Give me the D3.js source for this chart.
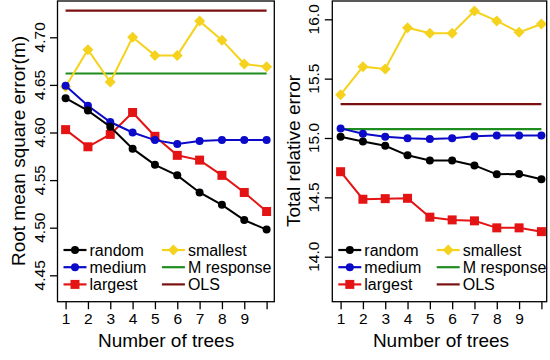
<!DOCTYPE html>
<html>
<head>
<meta charset="utf-8">
<script src="https://cdn.jsdelivr.net/npm/d3@7"></script>
<style>
  body { margin: 0; background: #fff; }
  svg { font-family: "Liberation Sans", Arial, sans-serif; }
</style>
</head>
<body>
<svg width="550" height="360"></svg>
<script>

// number of trees on the x axis
var trees = [1, 2, 3, 4, 5, 6, 7, 8, 9, 10];
var xTickLabels = ["1", "2", "3", "4", "5", "6", "7", "8", "9"];

// left panel: root mean square error (m)
var rmseRandom   = [4.636, 4.623, 4.606, 4.583, 4.566, 4.555, 4.537, 4.524, 4.508, 4.498];
var rmseMedium   = [4.649, 4.628, 4.611, 4.600, 4.592, 4.588, 4.591, 4.592, 4.592, 4.592];
var rmseLargest  = [4.603, 4.585, 4.598, 4.621, 4.596, 4.576, 4.571, 4.555, 4.537, 4.517];
var rmseSmallest = [4.648, 4.687, 4.653, 4.700, 4.681, 4.681, 4.717, 4.697, 4.672, 4.669];
var rmseMResponse = 4.662;
var rmseOLS = 4.728;
var rmseTicks = [4.45, 4.50, 4.55, 4.60, 4.65, 4.70];

// right panel: total relative error
var treRandom   = [15.01, 14.97, 14.935, 14.854, 14.811, 14.811, 14.769, 14.694, 14.697, 14.652];
var treMedium   = [15.081, 15.036, 15.011, 14.997, 14.991, 14.997, 15.014, 15.022, 15.022, 15.022];
var treLargest  = [14.716, 14.484, 14.489, 14.492, 14.333, 14.31, 14.302, 14.243, 14.243, 14.211];
var treSmallest = [15.365, 15.601, 15.581, 15.929, 15.882, 15.882, 16.07, 15.986, 15.89, 15.96];
var treMResponse = 15.075;
var treOLS = 15.286;
var treTicks = [14.0, 14.5, 15.0, 15.5, 16.0];
var treTickLabels = ["14.0", "14.5", "15.0", "15.5", "16.0"];

var colors = { random: "#000000", medium: "#0a0ac8", largest: "#e41414", smallest: "#f5d21e", mresp: "#1e8c1e", ols: "#7a1010" };

var svg = d3.select("svg");

function panel(opt) {
  var g = svg.append("g");
  var x = d3.scaleLinear().domain([1, 10]).range(opt.xr);
  var y = d3.scaleLinear().domain(opt.yd).range(opt.yr);
  var top = 1, bottom = 301.7;

  var line = d3.line().x(function(d, i) { return x(trees[i]); }).y(function(d) { return y(d); });

  // flat reference lines
  [[opt.ols, colors.ols], [opt.mresp, colors.mresp]].forEach(function(r) {
    g.append("line")
      .attr("x1", x(1)).attr("x2", x(10))
      .attr("y1", y(r[0])).attr("y2", y(r[0]))
      .attr("stroke", r[1]).attr("stroke-width", 2.2);
  });

  var series = [
    { v: opt.smallest, c: colors.smallest, shape: "diamond" },
    { v: opt.largest, c: colors.largest, shape: "square" },
    { v: opt.medium, c: colors.medium, shape: "circle" },
    { v: opt.random, c: colors.random, shape: "circle" }
  ];
  if (opt.order) series = opt.order.map(function(i) { return series[i]; });

  series.forEach(function(s) {
    g.append("path").attr("d", line(s.v)).attr("fill", "none")
      .attr("stroke", s.c).attr("stroke-width", 2);
    s.v.forEach(function(d, i) { marker(g, s.shape, x(trees[i]), y(d), s.c); });
  });

  // box
  g.append("rect").attr("x", opt.box[0]).attr("y", top)
    .attr("width", opt.box[1] - opt.box[0]).attr("height", bottom - top)
    .attr("fill", "none").attr("stroke", "#000").attr("stroke-width", 1.3);

  // x axis
  var xa = g.append("g").attr("transform", "translate(0," + bottom + ")")
    .call(d3.axisBottom(x).tickValues(trees).tickSize(7.5).tickPadding(4)
      .tickFormat(function(d, i) { return xTickLabels[i] || ""; }));
  xa.select(".domain").remove();
  xa.selectAll("line").attr("stroke-width", 1.3);
  xa.selectAll("text").attr("font-size", 15.5).attr("fill", "#000")
    .attr("font-family", "Liberation Sans, Arial, sans-serif");

  // y axis
  var ya = g.append("g").attr("transform", "translate(" + opt.box[0] + ",0)")
    .call(d3.axisLeft(y).tickValues(opt.ticks).tickSize(7.5)
      .tickFormat(function(d, i) { return opt.tickLabels[i]; }));
  ya.select(".domain").remove();
  ya.selectAll("line").attr("stroke-width", 1.3);
  ya.selectAll("text").remove();
  opt.ticks.forEach(function(t, i) {
    g.append("text")
      .attr("transform", "translate(" + opt.tickX + "," + y(t) + ") rotate(-90)")
      .attr("text-anchor", "middle").attr("font-size", 15.5)
      .text(opt.tickLabels[i]);
  });

  g.append("text").attr("x", (x(1) + x(10)) / 2).attr("y", 346.5)
    .attr("text-anchor", "middle").attr("font-size", 19).text("Number of trees");
  g.append("text")
    .attr("transform", "translate(" + opt.titleX + ",151) rotate(-90)")
    .attr("text-anchor", "middle").attr("font-size", 19).text(opt.title);

  // legend
  var lx = opt.box[0];
  var items = [
    { t: "random", c: colors.random, shape: "circle", col: 0, row: 0 },
    { t: "medium", c: colors.medium, shape: "circle", col: 0, row: 1 },
    { t: "largest", c: colors.largest, shape: "square", col: 0, row: 2 },
    { t: "smallest", c: colors.smallest, shape: "diamond", col: 1, row: 0 },
    { t: "M response", c: colors.mresp, shape: null, col: 1, row: 1 },
    { t: "OLS", c: colors.ols, shape: null, col: 1, row: 2 }
  ];
  items.forEach(function(it) {
    var x0 = lx + 6 + it.col * 98.4, yy = 250 + it.row * 17.2;
    g.append("line").attr("x1", x0).attr("x2", x0 + 23).attr("y1", yy).attr("y2", yy)
      .attr("stroke", it.c).attr("stroke-width", 2.2);
    if (it.shape) marker(g, it.shape, x0 + 11.5, yy, it.c);
    g.append("text").attr("x", x0 + 26).attr("y", yy + 5.6)
      .attr("font-size", 16).text(it.t);
  });
}

function marker(g, shape, cx, cy, c) {
  if (shape === "circle") {
    g.append("circle").attr("cx", cx).attr("cy", cy).attr("r", 4).attr("fill", c);
  } else if (shape === "square") {
    g.append("rect").attr("x", cx - 4.5).attr("y", cy - 4.5).attr("width", 9).attr("height", 9).attr("fill", c);
  } else {
    var r = 5.5;
    g.append("path").attr("d", "M" + cx + "," + (cy - r) + "L" + (cx + r) + "," + cy + "L" + cx + "," + (cy + r) + "L" + (cx - r) + "," + cy + "Z")
      .attr("fill", c);
  }
}

panel({
  xr: [65.6, 266.6], box: [57.5, 274.3],
  yd: [4.45, 4.70], yr: [275.3, 37.3],
  ticks: rmseTicks, tickLabels: rmseTicks.map(function(d) { return d.toFixed(2); }),
  tickX: 45, titleX: 25, title: "Root mean square error(m)",
  random: rmseRandom, medium: rmseMedium, largest: rmseLargest, smallest: rmseSmallest,
  mresp: rmseMResponse, ols: rmseOLS
});

panel({
  xr: [340.6, 541.4], box: [332.3, 546.7],
  yd: [14.0, 16.0], yr: [256.7, 19.3],
  ticks: treTicks, tickLabels: treTickLabels,
  tickX: 319, titleX: 300, title: "Total relative error",
  random: treRandom, medium: treMedium, largest: treLargest, smallest: treSmallest,
  mresp: treMResponse, ols: treOLS
});

</script>
</body>
</html>
